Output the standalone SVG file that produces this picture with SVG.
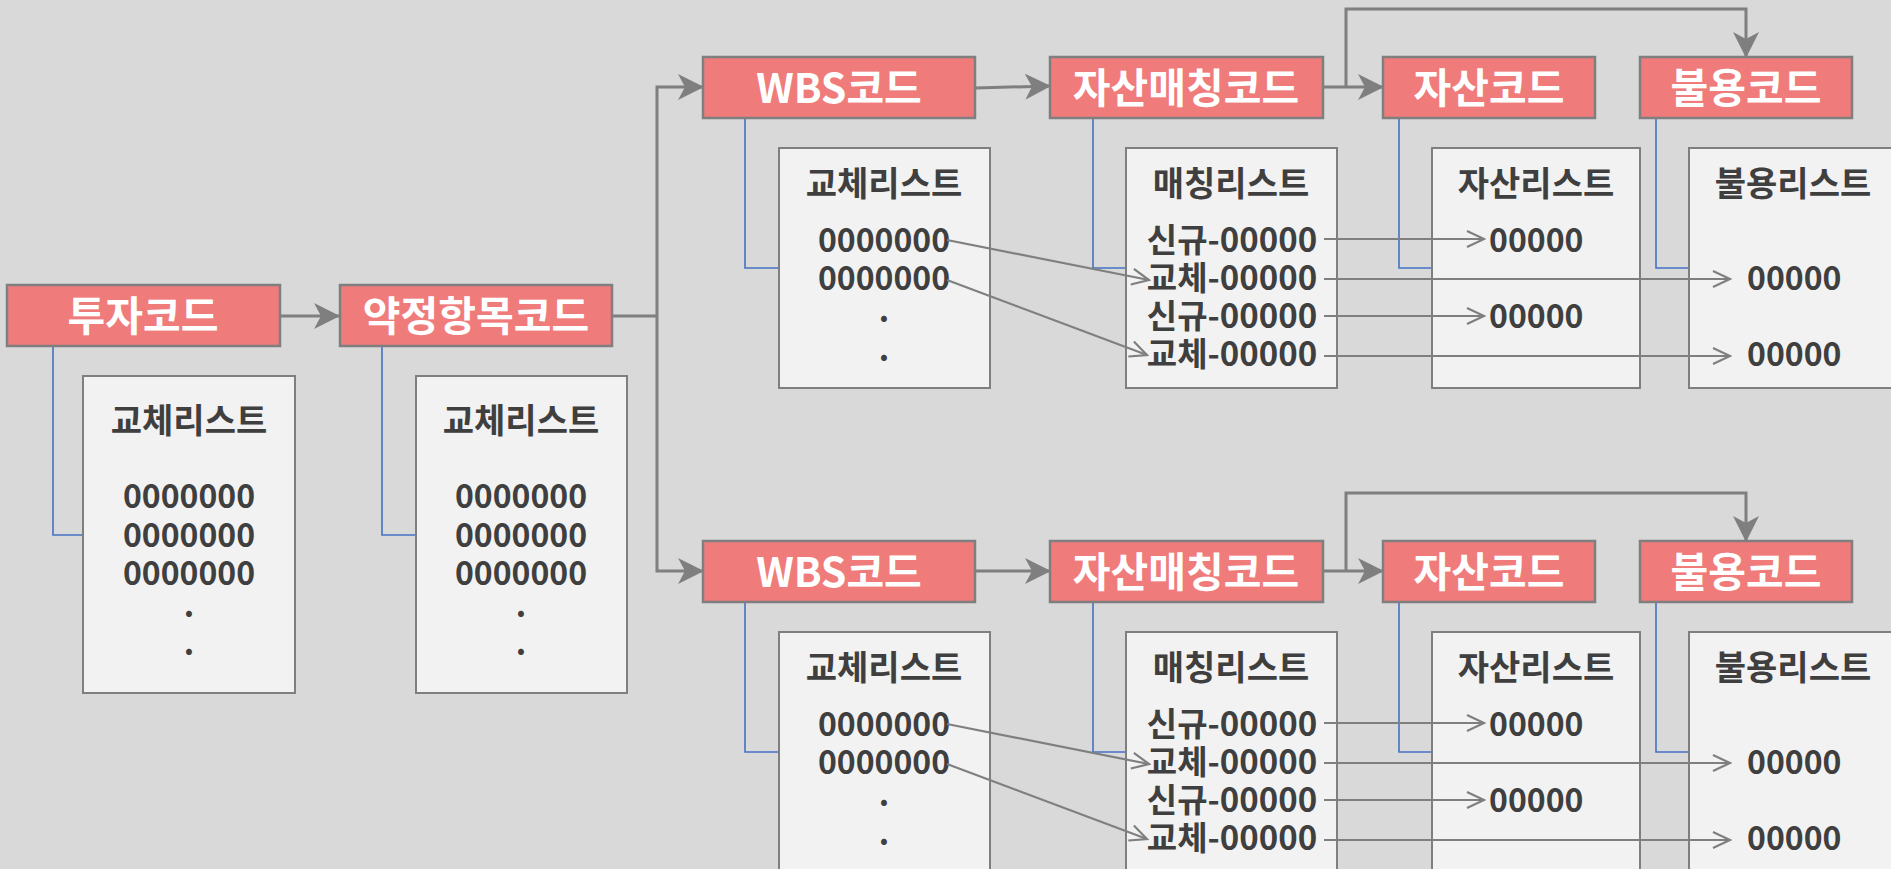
<svg xmlns="http://www.w3.org/2000/svg" width="1891" height="869" viewBox="0 0 1891 869">
<style>
.node rect{fill:#f07b7b;stroke:#7f7f7f;stroke-width:2.5}
.node text{fill:#ffffff;font-family:"Noto Sans CJK KR","Noto Sans",sans-serif;font-weight:bold;font-size:41px;text-anchor:middle}
.list rect{fill:#f2f2f2;stroke:#7f7f7f;stroke-width:2}
.list text{fill:#3f3f3f;font-family:"Noto Sans CJK KR","Noto Sans",sans-serif;font-weight:bold;font-size:32px;text-anchor:middle}
.list text.t{font-size:34px}
.list text.m{font-size:33px}
.list text.l{text-anchor:start}
.main{fill:none;stroke:#7f7f7f;stroke-width:3;marker-end:url(#stealth)}
.plain{fill:none;stroke:#7f7f7f;stroke-width:3}
.link{fill:none;stroke:#4472c4;stroke-width:1.6}
.item{fill:none;stroke:#7f7f7f;stroke-width:2.2;marker-end:url(#chev)}
</style>
<defs>
<marker id="stealth" markerUnits="userSpaceOnUse" viewBox="0 0 26 26" markerWidth="26" markerHeight="26" refX="25" refY="13" orient="auto">
<path d="M0,0 L26,13 L0,26 L7,13 z" fill="#7f7f7f"/>
</marker>
<marker id="chev" markerUnits="userSpaceOnUse" viewBox="0 0 20 20" markerWidth="20" markerHeight="20" refX="18" refY="10" orient="auto">
<path d="M1,2 L18,10 L1,18" fill="none" stroke="#7f7f7f" stroke-width="2.2"/>
</marker>
</defs>
<rect x="0" y="0" width="1891" height="869" fill="#d9d9d9"/>

<g id="connectors">
<path class="link" d="M53,346 V535 H83"/>
<path class="link" d="M382,346 V535 H416"/>
<path class="link" d="M745,118 V268 H779"/>
<path class="link" d="M1093,118 V268 H1126"/>
<path class="link" d="M1399,118 V268 H1432"/>
<path class="link" d="M1656,118 V268 H1689"/>
<path class="link" d="M745,602 V752 H779"/>
<path class="link" d="M1093,602 V752 H1126"/>
<path class="link" d="M1399,602 V752 H1432"/>
<path class="link" d="M1656,602 V752 H1689"/>
</g>

<g id="n-invest" class="node"><rect x="7" y="285" width="273" height="61"/><text x="143" y="331">투자코드</text></g>
<g id="n-agree" class="node"><rect x="340" y="285" width="272" height="61"/><text x="476" y="331">약정항목코드</text></g>

<g id="l-invest" class="list"><rect x="83" y="376" width="212" height="317"/>
<text class="t" x="189" y="433">교체리스트</text>
<text x="189" y="508">0000000<tspan x="189" dy="39">0000000</tspan><tspan x="189" dy="38">0000000</tspan><tspan x="189" dy="32">.</tspan><tspan x="189" dy="38">.</tspan></text></g>
<g id="l-agree" class="list"><rect x="416" y="376" width="211" height="317"/>
<text class="t" x="521" y="433">교체리스트</text>
<text x="521" y="508">0000000<tspan x="521" dy="39">0000000</tspan><tspan x="521" dy="38">0000000</tspan><tspan x="521" dy="32">.</tspan><tspan x="521" dy="38">.</tspan></text></g>

<g id="n-wbs1" class="node"><rect x="703" y="57" width="272" height="61"/><text x="839" y="103">WBS코드</text></g>
<g id="n-match1" class="node"><rect x="1050" y="57" width="273" height="61"/><text x="1186" y="103">자산매칭코드</text></g>
<g id="n-asset1" class="node"><rect x="1383" y="57" width="212" height="61"/><text x="1489" y="103">자산코드</text></g>
<g id="n-disuse1" class="node"><rect x="1640" y="57" width="212" height="61"/><text x="1746" y="103">불용코드</text></g>

<g id="l-wbs1" class="list"><rect x="779" y="148" width="211" height="240"/>
<text class="t" x="884" y="196">교체리스트</text>
<text x="884" y="252">0000000<tspan x="884" dy="38">0000000</tspan><tspan x="884" dy="32">.</tspan><tspan x="884" dy="39">.</tspan></text></g>
<g id="l-match1" class="list"><rect x="1126" y="148" width="211" height="240"/>
<text class="t" x="1231" y="196">매칭리스트</text>
<text class="m" x="1232" y="252">신규-00000<tspan x="1232" dy="38">교체-00000</tspan><tspan x="1232" dy="38">신규-00000</tspan><tspan x="1232" dy="38">교체-00000</tspan></text></g>
<g id="l-asset1" class="list"><rect x="1432" y="148" width="208" height="240"/>
<text class="t" x="1536" y="196">자산리스트</text>
<text class="l" x="1489" y="252">00000<tspan x="1489" dy="76">00000</tspan></text></g>
<g id="l-disuse1" class="list"><rect x="1689" y="148" width="230" height="240"/>
<text class="t" x="1793" y="196">불용리스트</text>
<text class="l" x="1747" y="290">00000<tspan x="1747" dy="76">00000</tspan></text></g>

<g id="n-wbs2" class="node"><rect x="703" y="541" width="272" height="61"/><text x="839" y="587">WBS코드</text></g>
<g id="n-match2" class="node"><rect x="1050" y="541" width="273" height="61"/><text x="1186" y="587">자산매칭코드</text></g>
<g id="n-asset2" class="node"><rect x="1383" y="541" width="212" height="61"/><text x="1489" y="587">자산코드</text></g>
<g id="n-disuse2" class="node"><rect x="1640" y="541" width="212" height="61"/><text x="1746" y="587">불용코드</text></g>

<g id="l-wbs2" class="list"><rect x="779" y="632" width="211" height="260"/>
<text class="t" x="884" y="680">교체리스트</text>
<text x="884" y="736">0000000<tspan x="884" dy="38">0000000</tspan><tspan x="884" dy="32">.</tspan><tspan x="884" dy="39">.</tspan></text></g>
<g id="l-match2" class="list"><rect x="1126" y="632" width="211" height="260"/>
<text class="t" x="1231" y="680">매칭리스트</text>
<text class="m" x="1232" y="736">신규-00000<tspan x="1232" dy="38">교체-00000</tspan><tspan x="1232" dy="38">신규-00000</tspan><tspan x="1232" dy="38">교체-00000</tspan></text></g>
<g id="l-asset2" class="list"><rect x="1432" y="632" width="208" height="260"/>
<text class="t" x="1536" y="680">자산리스트</text>
<text class="l" x="1489" y="736">00000<tspan x="1489" dy="76">00000</tspan></text></g>
<g id="l-disuse2" class="list"><rect x="1689" y="632" width="230" height="260"/>
<text class="t" x="1793" y="680">불용리스트</text>
<text class="l" x="1747" y="774">00000<tspan x="1747" dy="76">00000</tspan></text></g>

<g id="arrows">
<path class="main" d="M280,316 H339"/>
<path class="plain" d="M612,316 H657"/>
<path class="main" d="M657,316 V87 H703"/>
<path class="main" d="M657,316 V571 H703"/>
<path class="main" d="M975,88 L1050,86"/>
<path class="main" d="M1323,87 H1383"/>
<path class="main" d="M1346,87 V9 H1746 V57"/>
<path class="main" d="M975,571 H1050"/>
<path class="main" d="M1323,571 H1383"/>
<path class="main" d="M1346,571 V493 H1746 V541"/>
<path class="item" d="M947,240 L1149,280"/>
<path class="item" d="M947,280 L1147,355"/>
<path class="item" d="M1324,239 H1484"/>
<path class="item" d="M1324,279 H1730"/>
<path class="item" d="M1324,316 H1484"/>
<path class="item" d="M1324,356 H1730"/>
<path class="item" d="M947,724 L1149,764"/>
<path class="item" d="M947,764 L1147,839"/>
<path class="item" d="M1324,723 H1484"/>
<path class="item" d="M1324,763 H1730"/>
<path class="item" d="M1324,800 H1484"/>
<path class="item" d="M1324,840 H1730"/>
</g>
</svg>
